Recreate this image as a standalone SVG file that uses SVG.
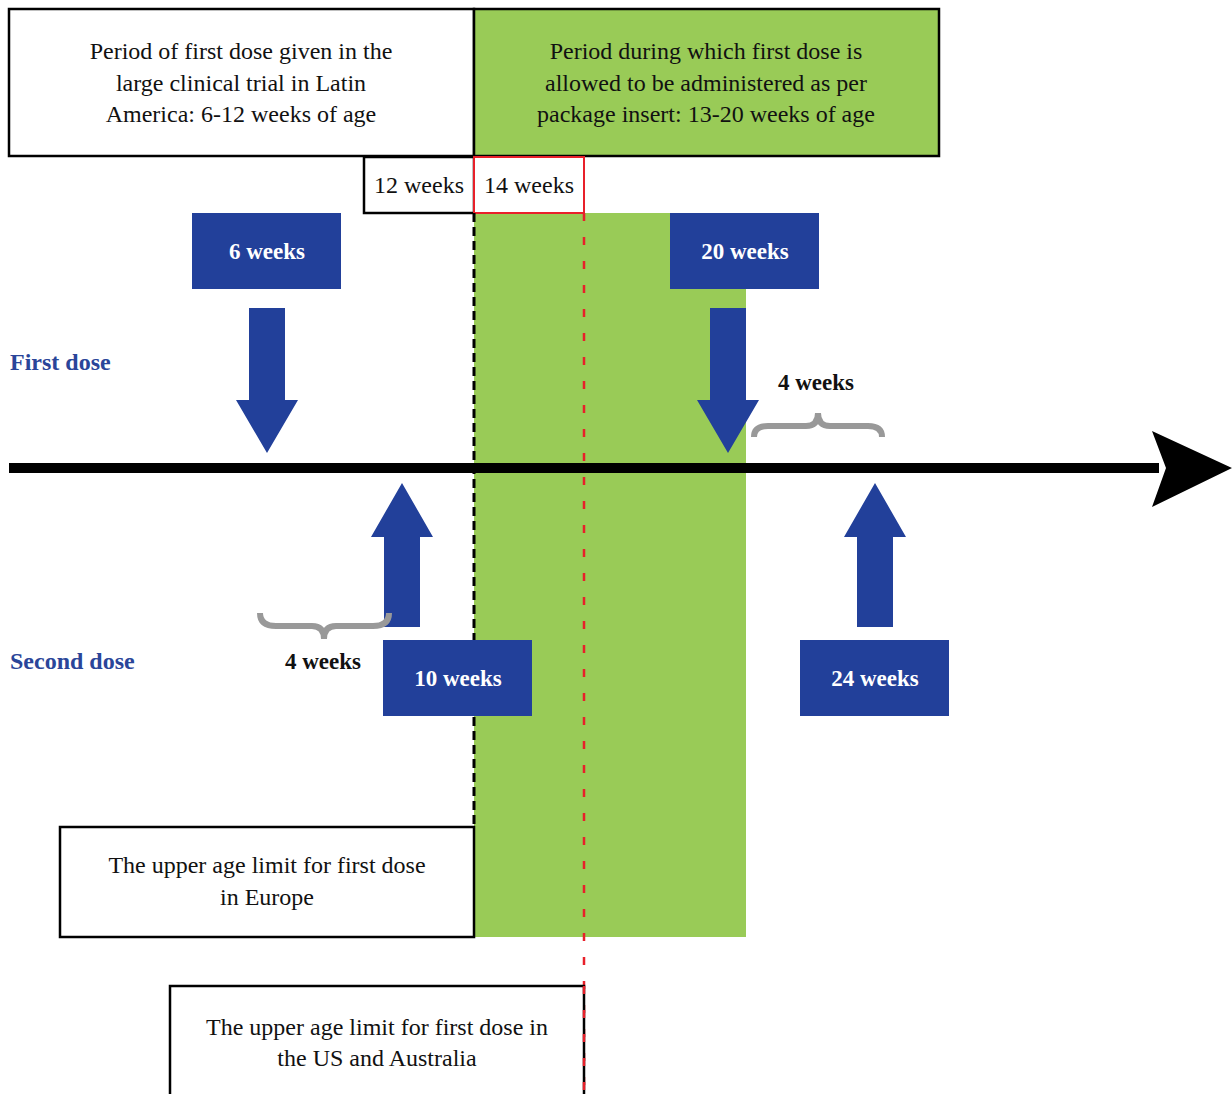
<svg xmlns="http://www.w3.org/2000/svg" width="1232" height="1094" viewBox="0 0 1232 1094">
<style>
text{font-family:"Liberation Serif",serif;fill:#111}
.t{font-size:24px;text-anchor:middle}
.w{font-size:23px;fill:#fff;font-weight:bold;text-anchor:middle}
.lbl{font-size:24px;font-weight:bold;fill:#2a4599}
.b{font-size:23px;font-weight:bold}
.box{fill:#fff;stroke:#000;stroke-width:2.5}
.blue{fill:#22409a}
.brace{fill:none;stroke:#999;stroke-width:6;stroke-linecap:butt}
</style>
<rect width="1232" height="1094" fill="#fff"/>
<g id="band"><rect x="474" y="213" width="272" height="724" fill="#99cb57"/></g>
<g id="box-latin"><rect class="box" x="9" y="9" width="465" height="147"/>
<text class="t" x="241" y="59">Period of first dose given in the</text>
<text class="t" x="241" y="91">large clinical trial in Latin</text>
<text class="t" x="241" y="122">America: 6-12 weeks of age</text></g>
<g id="box-insert"><rect x="474" y="9" width="465" height="147" fill="#99cb57" stroke="#000" stroke-width="2.5"/>
<text class="t" x="706" y="59">Period during which first dose is</text>
<text class="t" x="706" y="91">allowed to be administered as per</text>
<text class="t" x="706" y="122">package insert: 13-20 weeks of age</text></g>
<g id="w12"><rect class="box" x="364" y="157" width="110" height="56"/><text class="t" x="419" y="193">12 weeks</text></g>
<g id="w14"><rect x="474" y="157" width="110" height="56" fill="#fff" stroke="#e8202a" stroke-width="2"/><text class="t" x="529" y="193">14 weeks</text></g>
<g id="connectors">
<line x1="474" y1="213" x2="474" y2="827" stroke="#000" stroke-width="3" stroke-dasharray="9 5"/>
<line x1="584" y1="213" x2="584" y2="1094" stroke="#e8202a" stroke-width="2.5" stroke-dasharray="8 16"/>
<rect x="9" y="463" width="1150" height="10" fill="#000"/>
<polygon points="1152,431 1232,468 1152,507 1166,468" fill="#000"/>
<polygon class="blue" points="249,308 285,308 285,400 298,400 267,453 236,400 249,400"/>
<polygon class="blue" points="710,308 746,308 746,400 759,400 728,453 697,400 710,400"/>
<polygon class="blue" points="402,483 433,537 420,537 420,627 384,627 384,537 371,537"/>
<polygon class="blue" points="875,483 906,537 893,537 893,627 857,627 857,537 844,537"/>
<path class="brace" d="M754 437 Q754 426 768 426 L806 426 Q818 426 818 413 Q818 426 830 426 L868 426 Q882 426 882 437"/>
<path class="brace" d="M260 613 Q260 626 276 626 L312 626 Q324 626 324 639 Q324 626 336 626 L373 626 Q389 626 389 613"/>
</g>
<g id="w6"><rect class="blue" x="192" y="213" width="149" height="76"/><text class="w" x="267" y="259">6 weeks</text></g>
<g id="w20"><rect class="blue" x="670" y="213" width="149" height="76"/><text class="w" x="745" y="259">20 weeks</text></g>
<g id="w10"><rect class="blue" x="383" y="640" width="149" height="76"/><text class="w" x="458" y="686">10 weeks</text></g>
<g id="w24"><rect class="blue" x="800" y="640" width="149" height="76"/><text class="w" x="875" y="686">24 weeks</text></g>
<g id="first"><text class="lbl" x="10" y="370">First dose</text></g>
<g id="second"><text class="lbl" x="10" y="669">Second dose</text></g>
<g id="gap1"><text class="b" x="778" y="390">4 weeks</text></g>
<g id="gap2"><text class="b" x="285" y="669">4 weeks</text></g>
<g id="box-europe"><rect class="box" x="60" y="827" width="414" height="110"/>
<text class="t" x="267" y="873">The upper age limit for first dose</text>
<text class="t" x="267" y="905">in Europe</text></g>
<g id="box-us"><rect class="box" x="170" y="986" width="414" height="120"/>
<line x1="584" y1="986" x2="584" y2="1094" stroke="#e8202a" stroke-width="2.5" stroke-dasharray="8 16"/>
<text class="t" x="377" y="1035">The upper age limit for first dose in</text>
<text class="t" x="377" y="1066">the US and Australia</text></g>
</svg>
